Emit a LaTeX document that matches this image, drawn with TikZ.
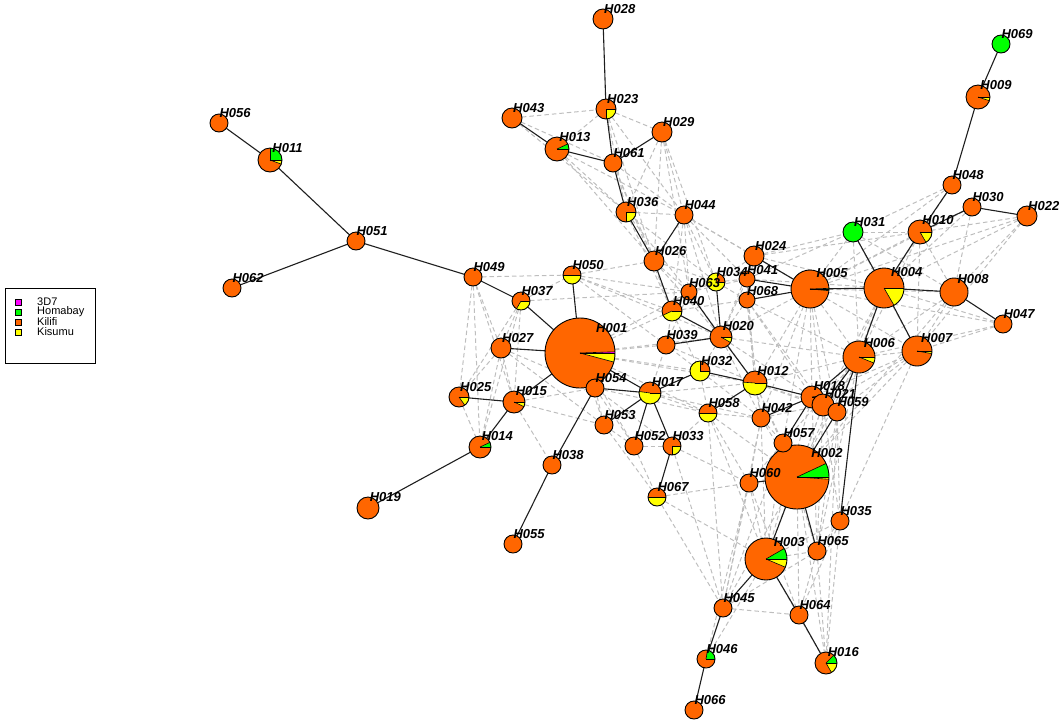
\documentclass[tikz,border=0pt]{standalone}
\usepackage{fontspec}
\setmainfont{Liberation Sans}
\pgfdeclarelayer{edges}
\pgfdeclarelayer{labels}
\pgfsetlayers{edges,main,labels}
\definecolor{ko}{RGB}{255,102,0}
\definecolor{ky}{RGB}{255,255,0}
\definecolor{kg}{RGB}{0,255,0}
\definecolor{km}{RGB}{255,0,255}
\definecolor{treec}{RGB}{30,30,30}
\definecolor{meshc}{RGB}{190,190,190}
\tikzset{
  hpos/.style={circle, inner sep=0pt, outer sep=0pt},
  wedgeline/.style={draw=black, line width=0.6pt},
  nodeline/.style={draw=black, line width=0.9pt},
  tree/.style={draw=treec, line width=1.1pt},
  mesh/.style={draw=meshc, line width=1.0pt, dash pattern=on 4.5pt off 3pt},
  hlabel/.style={font=\fontsize{13}{13}\selectfont\bfseries\itshape, anchor=base west, inner sep=0pt},
  legtext/.style={font=\fontsize{11}{11}\selectfont, anchor=west, inner sep=0pt},
  legbox/.style={draw=black, line width=0.8pt},
}
% pie node: name, x, y, r, slices a/b/colour
\newcommand\hap[5]{%
  \node[hpos, minimum size={2*#4}] (#1) at (#2,-#3) {};
  \foreach \aa/\bb/\cc in {#5}{%
    \fill[fill=\cc] (#2,-#3) -- ++(\aa:#4) arc[start angle=\aa, end angle=\bb, radius=#4] -- cycle;
  }
  \foreach \aa/\bb/\cc in {#5}{%
    \draw[wedgeline] (#2,-#3) -- ++(\aa:#4);
  }
  \draw[nodeline] (#2,-#3) circle[radius=#4];
  \begin{pgfonlayer}{labels}
    \node[hlabel] at ({#2+0.6*#4-5},{-#3+0.6*#4}) {#1};
  \end{pgfonlayer}
}
% full single-colour node: name, x, y, r, colour
\newcommand\hf[5]{%
  \node[hpos, minimum size={2*#4}, fill=#5, nodeline] (#1) at (#2,-#3) {};
  \begin{pgfonlayer}{labels}
    \node[hlabel] at ({#2+0.6*#4-5},{-#3+0.6*#4}) {#1};
  \end{pgfonlayer}
}
\begin{document}
\begin{tikzpicture}[x=1pt,y=1pt]
\useasboundingbox (0,0) rectangle (1063,-724);
% legend
\draw[legbox] (5,-288) rectangle (95,-363);
\foreach \yy/\cl/\tx in {302/km/3D7, 312/kg/Homabay, 322/ko/Kilifi, 332/ky/Kisumu}{
  \draw[fill=\cl, draw=black, line width=0.7pt] (15,-\yy-3) rectangle (21,-\yy+3);
  \node[legtext] at (37,-\yy) {\tx};
}
% nodes
\hap{H001}{580}{353}{35}{0/2/km, 2/345/ko, 345/360/ky}
\hap{H002}{797}{477}{32}{0/25/kg, 25/356/ko, 356/360/ky}
\hap{H003}{766}{559}{21}{0/30/kg, 30/337/ko, 337/360/ky}
\hap{H004}{884}{288}{20}{0/300/ko, 300/360/ky}
\hap{H005}{810}{289}{19}{0/2/kg, 2/355/ko, 355/360/ky}
\hap{H006}{859}{357}{16}{0/338/ko, 338/360/ky}
\hap{H007}{917}{351}{15}{0/350/ko, 350/360/ky}
\hf{H008}{954}{292}{14}{ko}
\hap{H009}{978}{97}{12}{0/342/ko, 342/360/ky}
\hap{H010}{920}{232}{12}{0/300/ko, 300/360/ky}
\hap{H011}{270}{160}{12}{0/90/kg, 90/340/ko, 340/360/ky}
\hap{H012}{755}{383}{12}{0/176/ko, 176/360/ky}
\hap{H013}{557}{149}{12}{0/25/kg, 25/360/ko}
\hap{H014}{480}{447}{11}{0/25/kg, 25/360/ko}
\hap{H015}{514}{402}{11}{0/335/ko, 335/360/ky}
\hap{H016}{826}{663}{11}{0/45/kg, 45/300/ko, 300/360/ky}
\hap{H017}{650}{393}{11}{0/172/ko, 172/360/ky}
\hap{H018}{812}{397}{11}{0/8/kg, 8/360/ko}
\hf{H019}{368}{508}{11}{ko}
\hap{H020}{721}{337}{11}{0/330/ko, 330/360/ky}
\hf{H021}{823}{405}{11}{ko}
\hf{H022}{1027}{216}{10}{ko}
\hap{H023}{606}{109}{10}{0/270/ko, 270/360/ky}
\hf{H024}{754}{256}{10}{ko}
\hap{H025}{459}{397}{10}{0/305/ko, 305/360/ky}
\hf{H026}{654}{261}{10}{ko}
\hf{H027}{501}{348}{10}{ko}
\hf{H028}{603}{19}{10}{ko}
\hf{H029}{662}{132}{10}{ko}
\hf{H030}{972}{207}{9}{ko}
\hf{H031}{853}{232}{10}{kg}
\hap{H032}{700}{371}{10}{0/90/ko, 90/360/ky}
\hap{H033}{672}{446}{9}{0/270/ko, 270/360/ky}
\hap{H034}{716}{282}{9}{0/75/ko, 75/360/ky}
\hf{H035}{840}{521}{9}{ko}
\hap{H036}{626}{212}{10}{0/270/ko, 270/360/ky}
\hap{H037}{521}{301}{9}{0/240/ko, 240/360/ky}
\hf{H038}{552}{465}{9}{ko}
\hf{H039}{666}{345}{9}{ko}
\hap{H040}{672}{311}{10}{0/205/ko, 205/360/ky}
\hf{H041}{747}{279}{8}{ko}
\hf{H042}{761}{418}{9}{ko}
\hf{H043}{512}{118}{10}{ko}
\hf{H044}{684}{215}{9}{ko}
\hf{H045}{723}{608}{9}{ko}
\hap{H046}{706}{659}{9}{0/80/kg, 80/360/ko}
\hf{H047}{1003}{324}{9}{ko}
\hf{H048}{952}{185}{9}{ko}
\hf{H049}{473}{277}{9}{ko}
\hap{H050}{572}{275}{9}{0/180/ko, 180/360/ky}
\hf{H051}{356}{241}{9}{ko}
\hf{H052}{634}{446}{9}{ko}
\hf{H053}{604}{425}{9}{ko}
\hf{H054}{595}{388}{9}{ko}
\hf{H055}{513}{544}{9}{ko}
\hf{H056}{219}{123}{9}{ko}
\hf{H057}{783}{443}{9}{ko}
\hap{H058}{708}{413}{9}{0/180/ko, 180/360/ky}
\hf{H059}{837}{412}{9}{ko}
\hf{H060}{749}{483}{9}{ko}
\hf{H061}{613}{163}{9}{ko}
\hf{H062}{232}{288}{9}{ko}
\hf{H063}{689}{292}{8}{ko}
\hf{H064}{799}{615}{9}{ko}
\hf{H065}{817}{551}{9}{ko}
\hf{H066}{694}{710}{9}{ko}
\hap{H067}{657}{497}{9}{0/180/ko, 180/360/ky}
\hf{H068}{747}{300}{8}{ko}
\hf{H069}{1001}{44}{9}{kg}
% edges
\begin{pgfonlayer}{edges}
\foreach \u/\v in {
  H043/H061, H013/H023, H013/H036, H013/H026, H023/H029, H023/H044, H023/H036,
  H029/H044, H029/H036, H061/H044, H036/H044, H029/H026, H044/H034, H044/H040,
  H036/H063, H036/H040, H026/H020, H026/H063, H026/H034, H044/H020, H044/H024, H044/H005,
  H013/H044, H043/H023, H043/H036, H061/H026, H061/H040, H023/H026, H029/H063, H029/H034,
  H044/H063, H044/H041, H036/H034,
  H049/H050, H049/H027, H049/H025, H037/H027, H037/H050, H050/H026, H050/H063, H050/H040,
  H037/H015, H027/H025, H027/H015, H025/H014, H027/H014, H015/H054, H015/H053, H037/H025, H050/H039,
  H049/H015, H049/H014, H037/H014, H027/H054, H027/H053, H015/H038, H050/H020, H037/H063,
  H001/H039, H001/H040, H001/H063, H001/H020, H001/H032, H001/H053, H001/H052,
  H001/H012, H001/H058, H054/H058, H054/H033,
  H054/H053, H054/H052, H053/H052, H052/H033, H053/H067, H052/H067, H017/H058, H017/H012,
  H017/H039, H032/H039, H032/H058, H032/H020, H039/H040, H039/H063, H040/H063, H063/H034,
  H034/H041, H034/H024, H034/H068, H020/H068, H020/H041, H020/H005, H040/H068, H063/H041,
  H017/H042, H032/H042, H020/H042, H020/H018, H039/H012, H040/H032, H063/H012, H068/H042,
  H041/H012, H024/H020, H024/H068, H041/H068, H024/H041, H005/H042, H005/H057, H005/H059,
  H068/H006, H068/H021, H020/H006, H012/H021, H012/H059,
  H012/H042, H012/H002, H012/H057, H058/H042, H058/H060, H033/H058, H033/H060, H067/H060,
  H067/H045, H067/H003, H042/H060, H042/H057, H042/H003, H057/H060, H060/H003, H060/H045,
  H058/H045, H033/H045, H042/H002, H042/H021, H058/H002, H058/H003, H057/H045, H042/H045,
  H005/H031, H024/H031, H041/H031, H005/H010, H005/H008, H005/H006, H005/H007, H005/H018,
  H005/H021, H024/H010, H031/H010, H031/H008, H010/H008, H022/H005, H022/H004, H022/H010,
  H030/H004, H030/H008, H048/H004, H048/H031, H008/H006, H008/H007, H047/H007, H047/H006,
  H047/H004, H007/H006, H007/H059, H007/H002, H007/H035, H006/H002, H006/H057, H012/H006,
  H012/H005, H068/H012, H068/H018, H041/H004, H024/H004,
  H031/H007, H031/H006, H010/H006, H010/H007, H030/H010, H030/H005, H022/H008, H022/H007,
  H048/H005, H047/H005, H008/H002, H007/H021, H007/H018, H006/H065, H004/H002, H004/H021, H004/H059,
  H002/H045, H002/H064, H002/H016, H057/H003, H018/H003, H021/H003, H021/H002, H059/H035,
  H021/H065, H059/H065, H035/H065, H035/H064, H035/H016, H065/H064, H065/H016, H003/H016,
  H045/H064, H046/H003, H060/H046,
  H057/H065, H018/H065, H021/H035, H059/H016, H003/H065, H003/H035,
  H060/H064, H045/H065}
  {\draw[mesh] (\u) -- (\v);}
\foreach \u/\v in {
  H028/H023, H023/H061, H043/H013, H013/H061, H029/H061, H061/H036, H036/H026, H044/H026,
  H026/H040, H040/H020, H063/H020, H034/H020, H039/H020, H020/H012, H032/H012, H017/H032,
  H012/H018, H058/H012, H042/H018, H024/H005, H041/H005, H068/H005, H005/H004, H031/H004,
  H004/H010, H010/H048, H048/H009, H009/H069, H010/H030, H030/H022, H004/H008, H008/H047,
  H004/H006, H004/H007, H006/H018, H006/H021, H006/H059, H006/H035, H018/H057, H059/H002,
  H002/H003, H002/H065, H003/H045, H003/H064, H045/H046, H046/H066, H064/H016,
  H001/H050, H001/H037, H001/H027, H001/H015, H001/H054, H001/H017, H054/H017, H054/H038,
  H038/H055, H037/H049, H049/H051, H051/H011, H011/H056, H051/H062, H015/H025, H015/H014,
  H014/H019, H017/H053, H017/H052, H017/H033, H033/H067, H060/H002}
  {\draw[tree] (\u) -- (\v);}
\end{pgfonlayer}
\end{tikzpicture}
\end{document}
